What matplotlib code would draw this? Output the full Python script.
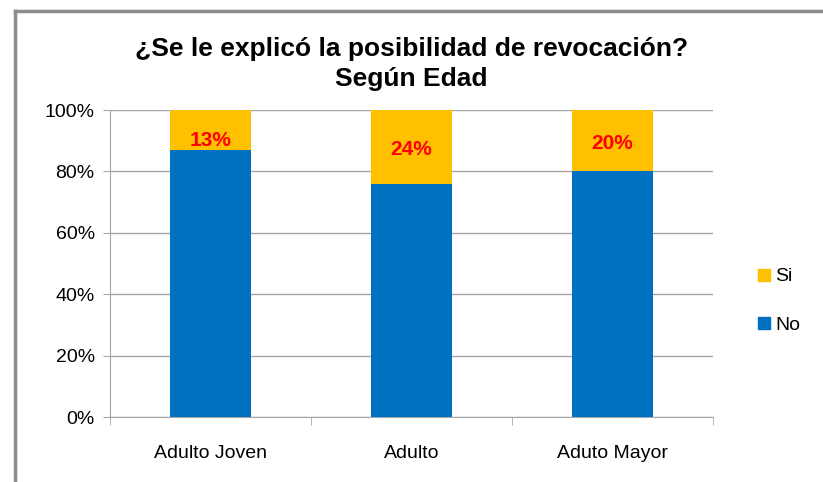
import matplotlib

matplotlib.use("Agg")
import matplotlib.pyplot as plt  # noqa: E402
from matplotlib.lines import Line2D  # noqa: E402

categories = ["Adulto Joven", "Adulto", "Aduto Mayor"]
no_vals = [87, 76, 80]
si_vals = [13, 24, 20]
y_ticks = [0, 20, 40, 60, 80, 100]

BLUE = "#0070C0"
YELLOW = "#FFC000"
GRID = "#A6A6A6"

plt.rcParams["font.family"] = ["Liberation Sans", "DejaVu Sans"]

fig = plt.figure(figsize=(8.23, 4.82), dpi=100)
ax = fig.add_axes([110 / 823, 1 - 417 / 482, 603 / 823, 307 / 482])

x = range(len(categories))
ax.bar(x, no_vals, width=0.4, color=BLUE, zorder=3, label="No")
ax.bar(x, si_vals, width=0.4, bottom=no_vals, color=YELLOW, zorder=3, label="Si")

for i, (n, s) in enumerate(zip(no_vals, si_vals)):
    ypos = min(n + s / 2 - 1, 90)
    ax.text(i, ypos, f"{s}%", ha="center", va="center", color="#FF0000",
            fontsize=15, fontweight="bold", zorder=4)

ax.set_xlim(-0.5, len(categories) - 0.5)
ax.set_ylim(0, 100)
ax.set_yticks(y_ticks)
ax.set_yticklabels([f"{t}%" for t in y_ticks], fontsize=14)
ax.yaxis.grid(True, color=GRID, linewidth=1, zorder=0)
ax.set_xticks(list(x))
ax.set_xticklabels(categories, fontsize=14)
ax.tick_params(axis="x", length=0, pad=20)
ax.tick_params(axis="y", length=5, color=GRID, pad=6)
# category boundary ticks
ax.set_xticks([-0.5, 0.5, 1.5, 2.5], minor=True)
ax.tick_params(axis="x", which="minor", length=6, color=GRID, direction="out")

for side in ["top", "right"]:
    ax.spines[side].set_visible(False)
ax.spines["left"].set_color(GRID)
ax.spines["bottom"].set_color(GRID)

fig.text(0.5, 1 - 64 / 482, "¿Se le explicó la posibilidad de revocación?\nSegún Edad",
         ha="center", va="center", fontsize=19, fontweight="bold", linespacing=1.35)

handles = [Line2D([], [], marker="s", linestyle="none", color=YELLOW, markersize=9),
           Line2D([], [], marker="s", linestyle="none", color=BLUE, markersize=9)]
fig.legend(handles, ["Si", "No"], loc="center left", bbox_to_anchor=(752 / 823, 1 - 301 / 482),
           frameon=False, fontsize=14, handletextpad=0.0, handlelength=1.2,
           labelspacing=1.6, borderpad=0, borderaxespad=0)

# outer frame
fig.add_artist(Line2D([15 / 823, 15 / 823], [0, 1 - 11 / 482], color="#8C8C8C", linewidth=2.5,
                      transform=fig.transFigure))
fig.add_artist(Line2D([15 / 823, 1], [1 - 11 / 482, 1 - 11 / 482], color="#8C8C8C", linewidth=2.5,
                      transform=fig.transFigure))

fig.savefig("out.png", dpi=100)
